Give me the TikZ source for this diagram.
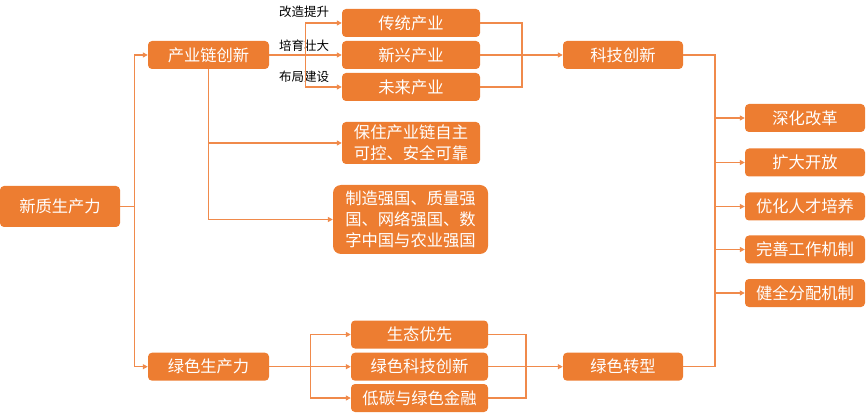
\documentclass[tikz,border=0pt]{standalone}
\usepackage{fontspec}
\newfontfamily\cjk{Noto Sans CJK SC}
\usetikzlibrary{arrows.meta}
\definecolor{boxfill}{HTML}{ED7D31}
\definecolor{linec}{HTML}{F08A4B}
\tikzset{
  box/.style={draw=none, fill=boxfill, rounded corners=4pt, text=white, font=\cjk\fontsize{16.3}{21}\selectfont, inner sep=0pt, align=center},
  conn/.style={draw=linec, line width=1.3pt},
  arr/.style={conn, -{Triangle[length=5pt,width=5pt]}},
  lbl/.style={font=\cjk\fontsize{12.5}{14}\selectfont, text=black, inner sep=0pt}
}
\begin{document}
\begin{tikzpicture}[x=1pt,y=-1pt]
\useasboundingbox (0,0) rectangle (866,419);
% nodes
\node[box, minimum width=120, minimum height=41] (root) at (60,206.5) {新质生产力};
\node[box, minimum width=121, minimum height=28] (chain) at (208.5,55) {产业链创新};
\node[box, minimum width=121, minimum height=28] (green) at (208.5,366.7) {绿色生产力};
\node[box, minimum width=138, minimum height=28] (trad) at (411,23) {传统产业};
\node[box, minimum width=138, minimum height=28] (newi) at (411,55) {新兴产业};
\node[box, minimum width=138, minimum height=28] (futi) at (411,87) {未来产业};
\node[box, minimum width=138, minimum height=42] (secure) at (411,143) {保住产业链自主\\可控、安全可靠};
\node[box, minimum width=155, minimum height=69, rounded corners=8pt, align=left] (make) at (410.5,219.5) {制造强国、质量强\\国、网络强国、数\\字中国与农业强国};
\node[box, minimum width=120, minimum height=28] (tech) at (623,55) {科技创新};
\node[box, minimum width=120, minimum height=28] (gtr) at (623,366.7) {绿色转型};
\node[box, minimum width=120, minimum height=28] (r1) at (805,118) {深化改革};
\node[box, minimum width=120, minimum height=28] (r2) at (805,162.5) {扩大开放};
\node[box, minimum width=120, minimum height=28] (r3) at (805,206.5) {优化人才培养};
\node[box, minimum width=120, minimum height=28] (r4) at (805,249.5) {完善工作机制};
\node[box, minimum width=120, minimum height=28] (r5) at (805,293) {健全分配机制};
\node[box, minimum width=137, minimum height=28] (eco) at (419.5,334.5) {生态优先};
\node[box, minimum width=137, minimum height=28] (gtech) at (419.5,366.7) {绿色科技创新};
\node[box, minimum width=137, minimum height=28] (lowc) at (419.5,398) {低碳与绿色金融};
% labels
\node[lbl] (l1) at (304,12) {改造提升};
\node[lbl] (l2) at (304,46) {培育壮大};
\node[lbl] (l3) at (304,77) {布局建设};
% junction coordinates
\coordinate (j1) at (522,55);
\coordinate (j2) at (715,55);
\coordinate (j3) at (715,366.7);
\coordinate (j4) at (526,366.7);
% connectors
\draw[arr] (root.east) -- ++(14,0) |- (chain.west);
\draw[arr] (root.east) -- ++(14,0) |- (green.west);
\draw[arr] (chain.east) -- (newi.west);
\draw[arr] (chain.east) -- ++(36,0) |- (trad.west);
\draw[arr] (chain.east) -- ++(36,0) |- (futi.west);
\draw[arr] (chain.south) |- (secure.west);
\draw[arr] (chain.south) |- (make.west);
\draw[conn] (trad.east) -| (j1);
\draw[conn] (futi.east) -| (j1);
\draw[arr] (newi.east) -- (tech.west);
\draw[conn] (tech.east) -- (j2) -- (j3) -- (gtr.east);
\draw[arr] (j2) |- (r1.west);
\draw[arr] (j2) |- (r2.west);
\draw[arr] (j2) |- (r3.west);
\draw[arr] (j2) |- (r4.west);
\draw[arr] (j2) |- (r5.west);
\draw[arr] (green.east) -- (gtech.west);
\draw[arr] (green.east) -- ++(41,0) |- (eco.west);
\draw[arr] (green.east) -- ++(41,0) |- (lowc.west);
\draw[conn] (eco.east) -| (j4);
\draw[conn] (lowc.east) -| (j4);
\draw[arr] (gtech.east) -- (gtr.west);
\end{tikzpicture}
\end{document}
